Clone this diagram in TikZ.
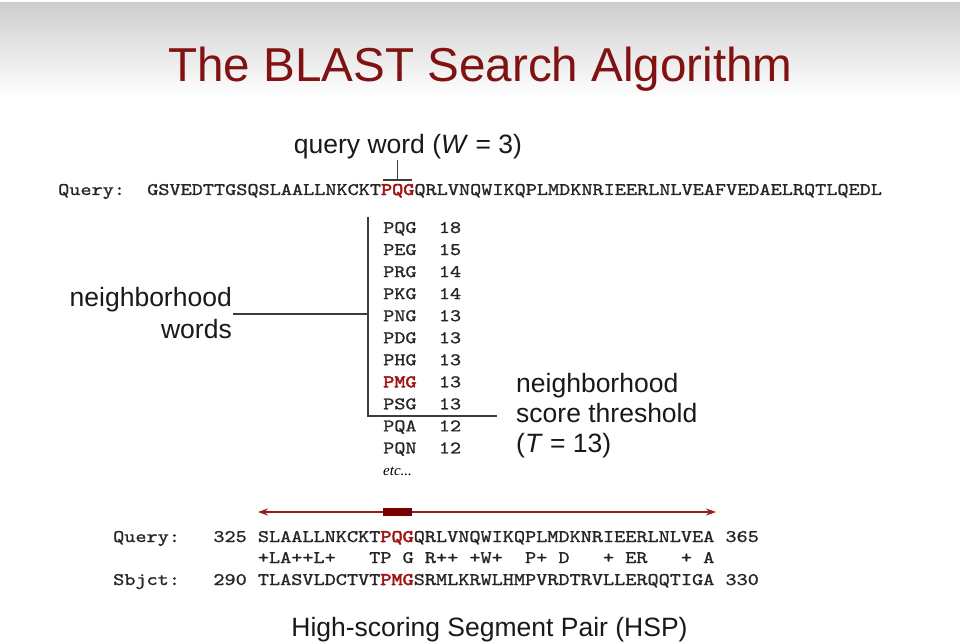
\documentclass[tikz,border=0pt]{standalone}
\usepackage{fontspec}
\setmainfont{Liberation Sans}
\newfontfamily\seqfont{lmmono10-regular.otf}[FakeStretch=1.2,FakeBold=1.2]
\newfontfamily\seqfontb{lmmono10-regular.otf}[FakeStretch=1.2,FakeBold=3]
\newfontfamily\etcfont{Liberation Serif}
\usetikzlibrary{arrows.meta}
\definecolor{titlered}{RGB}{128,18,18}
\definecolor{seqred}{RGB}{160,20,20}
\definecolor{arrowred}{RGB}{150,30,30}
\definecolor{barred}{RGB}{120,0,0}
\definecolor{topgray}{RGB}{206,206,206}
\definecolor{midgray}{RGB}{226,226,226}
\definecolor{linegray}{RGB}{60,60,60}
\newcommand\sq{\hphantom{X}}
\newcommand\rd[1]{{\seqfontb\color{seqred}#1}}
\tikzset{
  seq/.style={font=\seqfont\fontsize{17.67}{20}\selectfont, anchor=base west, inner sep=0pt, text=black!85},
  lbl/.style={font=\fontsize{26.5}{30}\selectfont, inner sep=0pt, text=black!90},
  conn/.style={draw=linegray, line width=1.5pt},
  titletext/.style={font=\fontsize{47.6}{52}\selectfont, text=titlered, inner sep=0pt, anchor=base},
}
\begin{document}
\begin{tikzpicture}[x=1pt,y=-1pt]
\useasboundingbox (0,0) rectangle (960,644);
\fill[white] (0,0) rectangle (960,644);
\shade[top color=topgray, middle color=midgray, bottom color=white] (0,3) rectangle (960,97);

\node[titletext] (title) at (480.5,82) {The BLAST Search Algorithm};

% query word label and tick
\node[lbl, anchor=base] (qw) at (408,154) {query word (\textit{W} = 3)};
\coordinate (tk) at (397.5,180);
\coordinate (tkL) at (383,180);
\coordinate (tkR) at (412,180);
\draw[conn] (qw.south -| tk) -- (tk);
\draw[conn] (tkL) -- (tkR);

\node[seq] (q1) at (58,195) {Query:\sq\sq GSVEDTTGSQSLAALLNKCKT\rd{PQG}QRLVNQWIKQPLMDKNRIEERLNLVEAFVEDAELRQTLQEDL};

% neighborhood list
\foreach \t/\s [count=\i from 0] in {PQG/18,PEG/15,PRG/14,PKG/14,PNG/13,PDG/13,PHG/13,\rd{PMG}/13,PSG/13,PQA/12,PQN/12}
  \node[seq] (l\i) at (383,233+22.04*\i) {\t\sq\sq\s};
\node[font=\etcfont\itshape\fontsize{15}{17}\selectfont, anchor=base west, inner sep=0pt] (etc) at (383,475) {etc...};

% bracket
\coordinate (bt) at (368,217);
\coordinate (bb) at (368,416);
\coordinate (br) at (497,416);
\draw[conn] (bt) -- (bb) -- (br);

% left label
\node[lbl, anchor=base east] (nw1) at (232,306) {neighborhood};
\node[lbl, anchor=base east] (nw2) at (232,338) {words};
\coordinate (nwL) at (233,314);
\coordinate (nwR) at (368,314);
\draw[conn] (nwL) -- (nwR);

% right label
\node[lbl, anchor=base west] (th1) at (516,392) {neighborhood};
\node[lbl, anchor=base west] (th2) at (516,422) {score threshold};
\node[lbl, anchor=base west] (th3) at (516,452) {(\textit{T} = 13)};

% HSP arrow
\coordinate (aL) at (258,512);
\coordinate (aR) at (716,512);
\draw[arrowred, line width=1.5pt, {Stealth[length=10pt,width=7pt]}-{Stealth[length=10pt,width=7pt]}] (aL) -- (aR);
\fill[barred] (383,508) rectangle (412,516);

% alignment
\node[seq] (bq) at (113,542) {Query:\sq\sq\sq 325\sq SLAALLNKCKT\rd{PQG}QRLVNQWIKQPLMDKNRIEERLNLVEA\sq 365};
\node[seq] (bm) at (113+13*11.13,563) {+LA++L+\sq\sq\sq TP\sq G\sq R++\sq+W+\sq\sq P+\sq D\sq\sq\sq+\sq ER\sq\sq\sq+\sq A};
\node[seq] (bs) at (113,585) {Sbjct:\sq\sq\sq 290\sq TLASVLDCTVT\rd{PMG}SRMLKRWLHMPVRDTRVLLERQQTIGA\sq 330};

\node[lbl, anchor=base] (hsp) at (489.5,636) {High-scoring Segment Pair (HSP)};
\end{tikzpicture}
\end{document}
